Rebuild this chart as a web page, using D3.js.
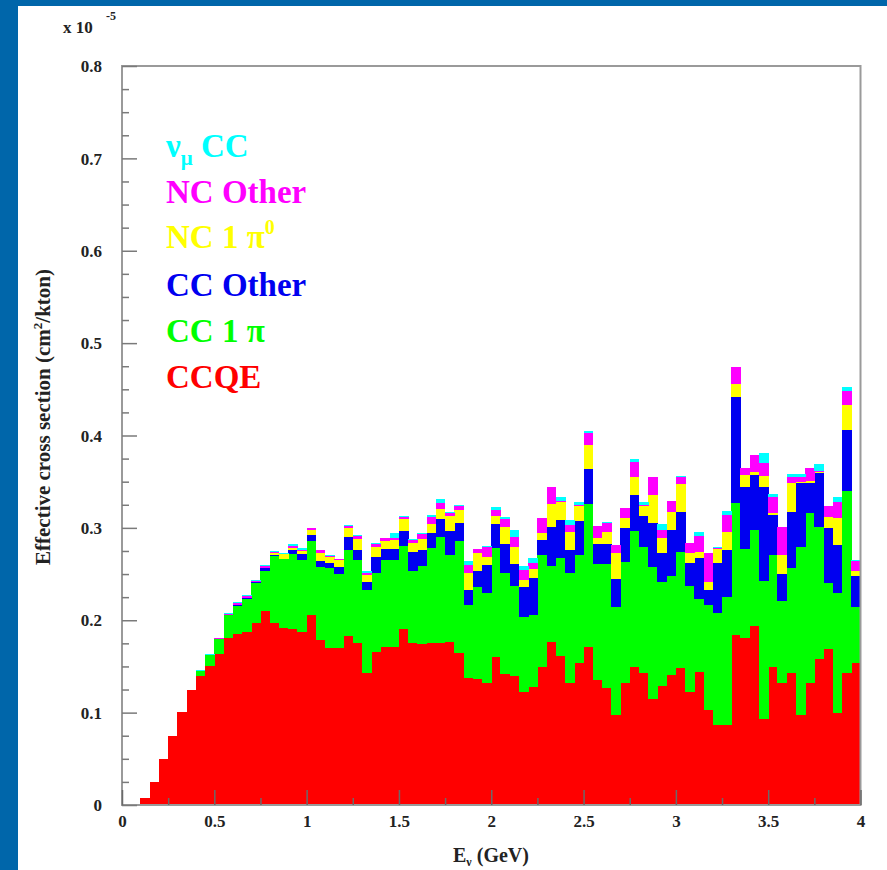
<!DOCTYPE html>
<html>
<head>
<meta charset="utf-8">
<script src="https://cdn.jsdelivr.net/npm/d3@7"></script>
<style>
  html, body { margin: 0; padding: 0; background: #ffffff; }
  svg { display: block; }
  text { font-family: "Liberation Serif", "Times New Roman", serif; font-weight: bold; }
</style>
</head>
<body>
<svg id="chart" width="887" height="870"></svg>
<script>
// Histogram binning: 80 bins of 0.05 GeV between 0 and 4 GeV
const binWidth = 0.05;
const binStarts = d3.range(80).map(i => +(i * binWidth).toFixed(2));

// Effective cross section per bin, units of 1e-5 cm^2/kton, by interaction channel
const ccqe = [0, 0, 0.0072, 0.0253, 0.0494, 0.0747, 0.101, 0.1245, 0.1396, 0.1505,
  0.1635, 0.1804, 0.1848, 0.1876, 0.1974, 0.21, 0.1974, 0.192, 0.1902, 0.1876,
  0.2057, 0.1786, 0.1703, 0.1703, 0.183, 0.175, 0.1425, 0.166, 0.1714, 0.1714,
  0.1902, 0.175, 0.1743, 0.175, 0.175, 0.1768, 0.1642, 0.1371, 0.1361, 0.1317,
  0.1606, 0.1418, 0.1396, 0.1227, 0.1281, 0.1497, 0.1768, 0.1613, 0.1317, 0.1534,
  0.1714, 0.1353, 0.1263, 0.0974, 0.1317, 0.1497, 0.1425, 0.1144, 0.1288, 0.1407,
  0.148, 0.1227, 0.1443, 0.1028, 0.0866, 0.0866, 0.184, 0.1804, 0.1938, 0.0928,
  0.1497, 0.1317, 0.1425, 0.0974, 0.1317, 0.1577, 0.1685, 0.0999, 0.1425, 0.1534];

const cc1pi = [0, 0, 0, 0, 0, 0, 0, 0, 0.0055, 0.0123,
  0.0158, 0.0253, 0.0311, 0.0357, 0.0426, 0.0437, 0.0721, 0.074, 0.0815, 0.0776,
  0.0801, 0.0787, 0.0859, 0.0794, 0.093, 0.0902, 0.0902, 0.0855, 0.0938, 0.0938,
  0.0902, 0.0787, 0.0844, 0.1029, 0.1148, 0.0938, 0.1216, 0.0794, 0.1002, 0.0981,
  0.1173, 0.109, 0.0975, 0.0812, 0.0776, 0.1209, 0.0819, 0.1058, 0.1198, 0.1172,
  0.1544, 0.1256, 0.1346, 0.1173, 0.1317, 0.1473, 0.1372, 0.1436, 0.1129, 0.1075,
  0.1262, 0.1144, 0.0784, 0.1137, 0.1209, 0.1389, 0.1426, 0.0964, 0.1039, 0.15,
  0.1209, 0.0895, 0.1137, 0.1823, 0.184, 0.1436, 0.0715, 0.1293, 0.1978, 0.0606];

const ccOther = [0, 0, 0, 0, 0, 0, 0, 0, 0, 0,
  0.0005, 0.0005, 0.001, 0.001, 0.0018, 0.0025, 0.001, 0.0005, 0.0045, 0.006,
  0.0065, 0.0072, 0.0054, 0.0076, 0.0145, 0.0108, 0.0084, 0.0166, 0.0119, 0.0119,
  0.0166, 0.0205, 0.0173, 0.0162, 0.0198, 0.0264, 0.0191, 0.0162, 0.0174, 0.03,
  0.0263, 0.0317, 0.0238, 0.0324, 0.0397, 0.0163, 0.0426, 0.0414, 0.0245, 0.0365,
  0.0379, 0.0216, 0.0216, 0.03, 0.0361, 0.0386, 0.0332, 0.0476, 0.0315, 0.0498,
  0.0434, 0.0245, 0.0444, 0.0162, 0.0541, 0.0505, 0.1154, 0.0671, 0.0595, 0.1011,
  0.0433, 0.0289, 0.0614, 0.0692, 0.0325, 0.0585, 0.0595, 0.0523, 0.0657, 0.0339];

const nc1pi0 = [0, 0, 0, 0, 0, 0, 0, 0, 0, 0,
  0, 0, 0, 0, 0, 0.0008, 0.0025, 0.005, 0.0025, 0.0035,
  0.0054, 0.0087, 0.0065, 0.0079, 0.009, 0.0116, 0.0079, 0.0116, 0.009, 0.0098,
  0.0123, 0.0091, 0.0116, 0.0101, 0.0108, 0.0159, 0.0144, 0.0181, 0.0195, 0.009,
  0.0087, 0.0181, 0.0188, 0.0073, 0.0098, 0.0072, 0.0245, 0.0198, 0.0199, 0.0166,
  0.026, 0.0062, 0.0134, 0.0285, 0.0109, 0.0198, 0.0108, 0.03, 0.0155, 0.0193,
  0.0299, 0.0108, 0.0071, 0.009, 0.0152, 0.0199, 0.0138, 0.0133, 0.0036, 0.0123,
  0.0026, 0.0205, 0.0306, 0.001, 0.0029, 0.001, 0.0126, 0.0289, 0.027, 0.0057];

const ncOther = [0, 0, 0, 0, 0, 0, 0, 0, 0, 0,
  0.0005, 0.001, 0.0015, 0.002, 0.0008, 0.0015, 0.001, 0.0005, 0.0015, 0.0018,
  0.0018, 0.0028, 0.0015, 0.0011, 0.0029, 0.004, 0.002, 0.003, 0.0025, 0.0018,
  0.0028, 0.0035, 0.0062, 0.0072, 0.0062, 0.0036, 0.0044, 0.009, 0.0036, 0.0109,
  0.0064, 0.0087, 0.0101, 0.0108, 0.0071, 0.0163, 0.0181, 0.001, 0.0072, 0.001,
  0.0127, 0.0133, 0.0097, 0.0083, 0.0108, 0.0162, 0.001, 0.0191, 0.009, 0.0116,
  0.0079, 0.0109, 0.017, 0.0307, 0.001, 0.018, 0.0182, 0.0073, 0.0181, 0.0144,
  0.0166, 0.03, 0.0065, 0.0048, 0.0134, 0.001, 0.0116, 0.018, 0.0155, 0.0109];

const numuCC = [0, 0, 0, 0, 0, 0, 0, 0, 0.001, 0.001,
  0.001, 0.0007, 0.0015, 0.001, 0.001, 0.0013, 0.0013, 0.0005, 0.0024, 0.0013,
  0.0007, 0.0005, 0.0005, 0.0003, 0.0005, 0.0005, 0.0027, 0.0006, 0.0008, 0.0061,
  0.0008, 0.0008, 0.0007, 0.0025, 0.0043, 0.0008, 0.0008, 0.0043, 0.0008, 0.0005,
  0.0029, 0.0021, 0.0079, 0.0043, 0.0048, 0.0005, 0.0005, 0.0045, 0.0054, 0.0036,
  0.0028, 0.0005, 0.0005, 0.0005, 0.0005, 0.0026, 0.0036, 0.0005, 0.0065, 0.0005,
  0.0005, 0.0005, 0.0047, 0.0005, 0.0019, 0.0047, 0.0005, 0.0005, 0.0005, 0.0101,
  0.0036, 0.0005, 0.0036, 0.0036, 0.0005, 0.0073, 0.0005, 0.0054, 0.0044, 0.0005];

// Stacking order, bottom to top
const channelKeys = ["ccqe", "cc1pi", "ccOther", "nc1pi0", "ncOther", "numuCC"];
const channelValues = { ccqe, cc1pi, ccOther, nc1pi0, ncOther, numuCC };
const channelColors = {
  ccqe: "#ff0000", cc1pi: "#00ff00", ccOther: "#0000f0",
  nc1pi0: "#ffff00", ncOther: "#ff00ff", numuCC: "#00ffff"
};

const xTicksMajor = [0, 0.5, 1, 1.5, 2, 2.5, 3, 3.5, 4];
const yTicksMajor = [0, 0.1, 0.2, 0.3, 0.4, 0.5, 0.6, 0.7, 0.8];

const svg = d3.select("#chart");
const W = 887, H = 870;

// page frame: blue band on the left and top
svg.append("rect").attr("x", 0).attr("y", 0).attr("width", W).attr("height", H).attr("fill", "#ffffff");
svg.append("rect").attr("x", 0).attr("y", 0).attr("width", 18).attr("height", H).attr("fill", "#0066aa");
svg.append("rect").attr("x", 0).attr("y", 0).attr("width", W).attr("height", 6).attr("fill", "#0066aa");

const x = d3.scaleLinear().domain([0, 4]).range([122, 860.5]);
const y = d3.scaleLinear().domain([0, 0.8]).range([805, 66]);

// stacked histogram
const table = binStarts.map((e, i) => {
  const row = { e };
  channelKeys.forEach(k => { row[k] = channelValues[k][i]; });
  return row;
});
const stacked = d3.stack().keys(channelKeys)(table);

const bars = svg.append("g").attr("shape-rendering", "crispEdges");
stacked.forEach(layer => {
  bars.append("g")
    .attr("fill", channelColors[layer.key])
    .selectAll("rect")
    .data(layer)
    .join("rect")
    .attr("x", d => x(d.data.e))
    .attr("width", d => x(d.data.e + binWidth) - x(d.data.e) + 0.4)
    .attr("y", d => y(d[1]))
    .attr("height", d => Math.max(0, y(d[0]) - y(d[1])));
});

// plot frame
const frameColor = "#9a9a9a";
svg.append("rect")
  .attr("x", x(0)).attr("y", y(0.8))
  .attr("width", x(4) - x(0)).attr("height", y(0) - y(0.8))
  .attr("fill", "none").attr("stroke", frameColor).attr("stroke-width", 2);

// y axis ticks drawn inward, 4 subdivisions
const yAxis = d3.axisRight(y).tickValues(d3.range(0, 0.8001, 0.025)).tickSize(0).tickFormat("");
const gy = svg.append("g").attr("transform", `translate(${x(0)},0)`).call(yAxis);
gy.select(".domain").remove();
gy.selectAll(".tick line")
  .attr("x2", d => (Math.abs(d * 10 - Math.round(d * 10)) < 1e-6 ? 15 : 7))
  .attr("stroke", "#7a7a7a").attr("stroke-width", 1.5);

// y tick labels
const gyl = svg.append("g").attr("transform", `translate(${x(0)},0)`)
  .call(d3.axisLeft(y).tickValues(yTicksMajor).tickSize(0).tickPadding(20)
    .tickFormat(d => d === 0 ? "0" : d3.format(".1f")(d)));
gyl.select(".domain").remove();
gyl.selectAll(".tick text")
  .attr("font-family", "Liberation Serif, serif").attr("font-weight", "bold")
  .attr("font-size", 17).attr("fill", "#222").attr("dy", "0.33em");

// x axis ticks drawn inward, minor every 0.25
const xAxis = d3.axisTop(x).tickValues(d3.range(0, 4.001, 0.25)).tickSize(0).tickFormat("");
const gx = svg.append("g").attr("transform", `translate(0,${y(0)})`).call(xAxis);
gx.select(".domain").remove();
gx.selectAll(".tick line")
  .attr("y2", d => (Math.abs(d * 2 - Math.round(d * 2)) < 1e-6 ? -15 : -7))
  .attr("stroke", "#6a6a6a").attr("stroke-width", 1.5);

// x tick labels
const gxl = svg.append("g").attr("transform", `translate(0,${y(0)})`)
  .call(d3.axisBottom(x).tickValues(xTicksMajor).tickSize(0).tickPadding(10)
    .tickFormat(d => String(d)));
gxl.select(".domain").remove();
gxl.selectAll(".tick text")
  .attr("font-family", "Liberation Serif, serif").attr("font-weight", "bold")
  .attr("font-size", 17).attr("fill", "#222").attr("dy", "0.71em");

// exponent label
const expo = svg.append("text").attr("x", 63).attr("y", 33).attr("font-size", 17).attr("fill", "#222");
expo.append("tspan").text("x 10");
expo.append("tspan").attr("x", 106).attr("y", 20).attr("font-size", 12).text("-5");

// axis titles
const xTitle = svg.append("text").attr("x", 453).attr("y", 862).attr("font-size", 20).attr("fill", "#222");
xTitle.append("tspan").text("E");
xTitle.append("tspan").attr("font-size", 12).attr("dy", 4).text("ν");
xTitle.append("tspan").attr("dy", -4).text(" (GeV)");

const yTitle = svg.append("text")
  .attr("transform", "translate(50,417) rotate(-90)")
  .attr("text-anchor", "middle").attr("font-size", 21).attr("fill", "#222");
yTitle.append("tspan").text("Effective cross section (cm");
yTitle.append("tspan").attr("font-size", 13).attr("dy", -8).text("2");
yTitle.append("tspan").attr("dy", 8).text("/kton)");

// legend, listed top to bottom in reverse stacking order
const legend = svg.append("g").attr("font-size", 33);
const legendX = 166;
const legendBaselines = [157, 203, 248, 296, 342, 388];

const l0 = legend.append("text").attr("x", legendX).attr("y", legendBaselines[0]).attr("fill", channelColors.numuCC);
l0.append("tspan").text("ν");
l0.append("tspan").attr("font-size", 21).attr("dy", 8).text("μ");
l0.append("tspan").attr("dy", -8).text(" CC");

legend.append("text").attr("x", legendX).attr("y", legendBaselines[1])
  .attr("fill", channelColors.ncOther).text("NC Other");

const l2 = legend.append("text").attr("x", legendX).attr("y", legendBaselines[2]).attr("fill", channelColors.nc1pi0);
l2.append("tspan").text("NC 1 π");
l2.append("tspan").attr("font-size", 20).attr("dy", -14).text("0");

legend.append("text").attr("x", legendX).attr("y", legendBaselines[3])
  .attr("fill", channelColors.ccOther).text("CC Other");

legend.append("text").attr("x", legendX).attr("y", legendBaselines[4])
  .attr("fill", channelColors.cc1pi).text("CC 1 π");

legend.append("text").attr("x", legendX).attr("y", legendBaselines[5])
  .attr("fill", channelColors.ccqe).text("CCQE");
</script>
</body>
</html>
